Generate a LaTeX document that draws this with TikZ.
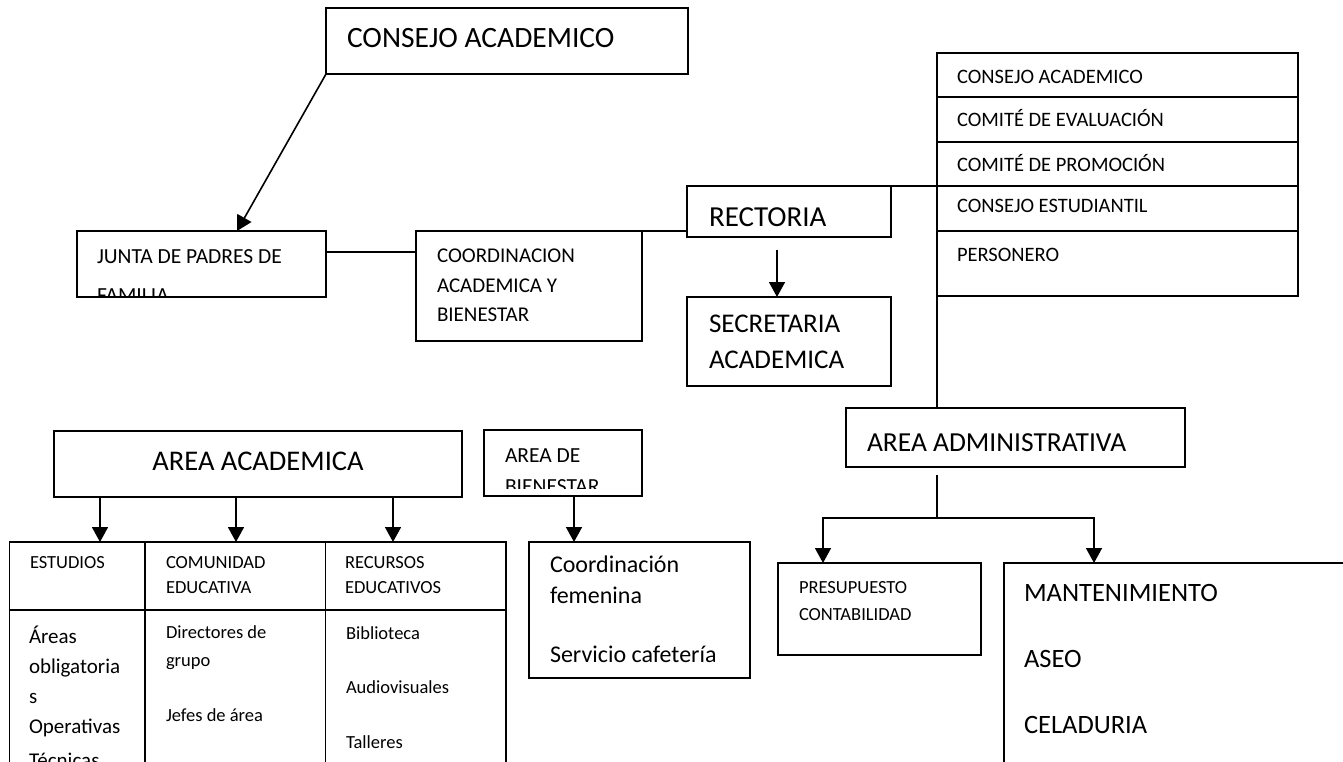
\documentclass[tikz,border=0pt]{standalone}
\usepackage{fontspec}
\setmainfont{Carlito}
\usetikzlibrary{arrows.meta,calc}
\begin{document}
\begin{tikzpicture}[x=1pt,y=-1pt,
  box/.style={draw, line width=1.6pt, inner sep=0pt, outer sep=0pt, anchor=north west},
  lbl/.style={anchor=base west, inner sep=0pt, outer sep=0pt},
  fcons/.style={font=\fontsize{29.5}{34}\selectfont},
  frect/.style={font=\fontsize{29}{34}\selectfont},
  fsec/.style={font=\fontsize{27}{32}\selectfont},
  facad/.style={font=\fontsize{28.5}{32}\selectfont},
  fadm/.style={font=\fontsize{27.5}{32}\selectfont},
  fmant/.style={font=\fontsize{26.5}{32}\selectfont},
  fcf/.style={font=\fontsize{24}{28}\selectfont},
  fmid/.style={font=\fontsize{21.5}{26}\selectfont},
  fcoo/.style={font=\fontsize{21}{26}\selectfont},
  fsm/.style={font=\fontsize{20.5}{24}\selectfont},
  fxs/.style={font=\fontsize{18.5}{22}\selectfont},
  conn/.style={line width=1.6pt},
  arr/.style={line width=1.6pt, -{Triangle[length=15pt,width=16pt]}},
]
\useasboundingbox (0,0) rectangle (1343,761);
\clip (0,0) rectangle (1343,761);

% ---------- boxes ----------
\node[box, minimum width=362pt, minimum height=66pt] (cons) at (326,8) {};
\node[box, minimum width=249pt, minimum height=66pt] (junta) at (77,231) {};
\node[box, minimum width=226pt, minimum height=110pt] (coord) at (416,231) {};
\node[box, minimum width=204pt, minimum height=51pt] (rect) at (687,186) {};
\node[box, minimum width=204pt, minimum height=89pt] (sec) at (687,297) {};
\node[box, minimum width=361pt, minimum height=44pt] (t1) at (937,53) {};
\node[box, minimum width=361pt, minimum height=45pt] (t2) at (937,97) {};
\node[box, minimum width=361pt, minimum height=44pt] (t3) at (937,142) {};
\node[box, minimum width=361pt, minimum height=45pt] (t4) at (937,186) {};
\node[box, minimum width=361pt, minimum height=65pt] (t5) at (937,231) {};
\node[box, minimum width=339pt, minimum height=59pt] (aa) at (846,408) {};
\node[box, minimum width=203pt, minimum height=92pt] (pres) at (778,563) {};
\node[box, minimum width=400pt, minimum height=300pt] (mant) at (1004,563) {};
\node[box, minimum width=408pt, minimum height=66pt] (acad) at (54,431) {};
\node[box, minimum width=135.5pt, minimum height=68pt] (h1) at (9.5,542) {};
\node[box, minimum width=180.5pt, minimum height=68pt] (h2) at (145,542) {};
\node[box, minimum width=180.5pt, minimum height=68pt] (h3) at (325.5,542) {};
\node[box, minimum width=135.5pt, minimum height=250pt] (b1) at (9.5,610) {};
\node[box, minimum width=180.5pt, minimum height=250pt] (b2) at (145,610) {};
\node[box, minimum width=180.5pt, minimum height=250pt] (b3) at (325.5,610) {};
\node[box, minimum width=158pt, minimum height=66pt] (bien) at (484,430) {};
\node[box, minimum width=221pt, minimum height=136pt] (cf) at (529,542) {};

% ---------- texts ----------
\node[lbl, fcons] (tcons) at (347,47.8) {CONSEJO ACADEMICO};
\begin{scope}
  \clip (78,232) rectangle (325,296);
  \node[lbl, fmid] (tj1) at (97,263.5) {JUNTA DE PADRES DE};
  \node[lbl, fmid] (tj2) at (97,302) {FAMILIA};
\end{scope}
\node[lbl, fcoo] (tc1) at (437,262.8) {COORDINACION};
\node[lbl, fcoo] (tc2) at (437,292.3) {ACADEMICA Y};
\node[lbl, fcoo] (tc3) at (437,321.8) {BIENESTAR};
\node[lbl, frect] (tr) at (709,226) {RECTORIA};
\node[lbl, fsec] (ts1) at (709,332.7) {SECRETARIA};
\node[lbl, fsec] (ts2) at (709,368.7) {ACADEMICA};
\node[lbl, fsm] (tt1) at (957,83.3) {CONSEJO ACADEMICO};
\node[lbl, fsm] (tt2) at (957,126.6) {COMITÉ DE EVALUACIÓN};
\node[lbl, fsm] (tt3) at (957,171.6) {COMITÉ DE PROMOCIÓN};
\node[lbl, fsm] (tt4) at (957,212.5) {CONSEJO ESTUDIANTIL};
\node[lbl, fsm] (tt5) at (957,261) {PERSONERO};
\node[lbl, fadm] (taa) at (867,451.9) {AREA ADMINISTRATIVA};
\node[lbl, fxs] (tp1) at (799,593.3) {PRESUPUESTO};
\node[lbl, fxs] (tp2) at (799,620.8) {CONTABILIDAD};
\node[lbl, fmant] (tm1) at (1024,601.5) {MANTENIMIENTO};
\node[lbl, fmant] (tm2) at (1024,667.5) {ASEO};
\node[lbl, fmant] (tm3) at (1024,733.5) {CELADURIA};
\node[anchor=base, inner sep=0pt, facad] (tacad) at (258,470.9) {AREA ACADEMICA};
\node[lbl, fxs] (th1) at (30,568.8) {ESTUDIOS};
\node[lbl, fxs] (th2a) at (166,568.8) {COMUNIDAD};
\node[lbl, fxs] (th2b) at (166,593.8) {EDUCATIVA};
\node[lbl, fxs] (th3a) at (345,568.8) {RECURSOS};
\node[lbl, fxs] (th3b) at (345,593.8) {EDUCATIVOS};
\node[lbl, fcoo] (tb1a) at (29,643) {Áreas};
\node[lbl, fcoo] (tb1b) at (29,673) {obligatoria};
\node[lbl, fcoo] (tb1c) at (29,703) {s};
\node[lbl, fcoo] (tb1d) at (29,733) {Operativas};
\node[lbl, fcoo] (tb1e) at (29,767) {Técnicas};
\node[lbl, fxs] (tb2a) at (166,638.8) {Directores de};
\node[lbl, fxs] (tb2b) at (166,666) {grupo};
\node[lbl, fxs] (tb2c) at (166,721) {Jefes de área};
\node[lbl, fxs] (tb3a) at (346,639) {Biblioteca};
\node[lbl, fxs] (tb3b) at (346,693.2) {Audiovisuales};
\node[lbl, fxs] (tb3c) at (346,748.3) {Talleres};
\begin{scope}
  \clip (485,431) rectangle (641,488);
  \node[lbl, fmid] (tbi1) at (505,462.5) {AREA DE};
  \node[lbl, fmid] (tbi2) at (505,493) {BIENESTAR};
\end{scope}
\node[lbl, fcf] (tf1) at (550,572.5) {Coordinación};
\node[lbl, fcf] (tf2) at (550,603) {femenina};
\node[lbl, fcf] (tf3) at (550,662) {Servicio cafetería};

% ---------- connectors ----------
\coordinate (jtip) at (237,231);
\draw[arr] (cons.south west) -- (jtip);
\coordinate (jy) at (0,252);
\draw[conn] (junta.east |- jy) -- (coord.west |- jy);
\draw[conn] (coord.north east) -- (rect.west |- coord.north east);
\draw[conn] (rect.north east) -- (t4.north west);
\coordinate (sa) at (777,250);
\draw[arr] (sa) -- (sa |- sec.north);
\draw[conn] (t5.south west) -- (aa.north -| t5.south west);
\coordinate (ab) at (937,475);
\coordinate (aj) at (937,518);
\coordinate (xp) at (823,0);
\coordinate (xm) at (1094,0);
\draw[conn] (ab) -- (aj);
\draw[arr] (aj) -| (pres.north -| xp);
\draw[arr] (aj) -| (mant.north -| xm);
\coordinate (x1) at (100,0);
\coordinate (x2) at (236,0);
\coordinate (x3) at (393,0);
\coordinate (x4) at (574,0);
\draw[arr] (acad.south -| x1) -- (h1.north -| x1);
\draw[arr] (acad.south -| x2) -- (h2.north -| x2);
\draw[arr] (acad.south -| x3) -- (h3.north -| x3);
\draw[arr] (bien.south -| x4) -- (cf.north -| x4);
\end{tikzpicture}
\end{document}
